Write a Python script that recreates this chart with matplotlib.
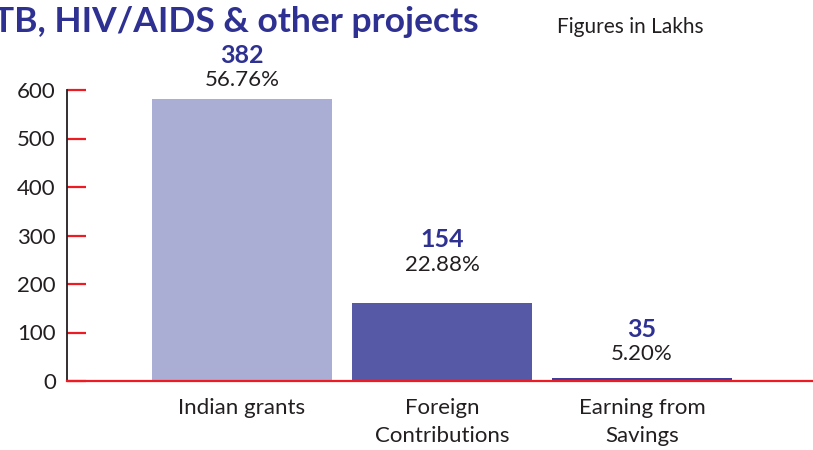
import matplotlib.pyplot as plt

# data
categories = ["Indian grants", "Foreign\nContributions", "Earning from\nSavings"]
bar_heights = [581, 161, 5.5]
amounts = ["382", "154", "35"]
shares = ["56.76%", "22.88%", "5.20%"]
yticks = [0, 100, 200, 300, 400, 500, 600]

# layout: gap (px) between bar top and the percent label centre
label_gap = [19, 38, 24]

bar_colors = ["#abaed4", "#5659a5", "#3c3f9c"]
navy = "#2e3192"
dark = "#231f20"
red = "#ed1c24"

plt.rcParams['font.family'] = ['Lato', 'DejaVu Sans']

fig = plt.figure(figsize=(8.13, 4.5), dpi=100)
ax = fig.add_axes([67 / 813, 69 / 450, 746 / 813, 291 / 450])

x = range(len(categories))
bars = ax.bar(x, bar_heights, width=0.9, color=bar_colors, zorder=2)

px = 72 / 100  # points per pixel
for b, amt, pct, gap in zip(bars, amounts, shares, label_gap):
    cx = b.get_x() + b.get_width() / 2
    top = b.get_height()
    ax.annotate(pct, (cx, top), xytext=(0, gap * px), textcoords='offset points',
                ha='center', va='center', fontsize=16, color=dark)
    ax.annotate(amt, (cx, top), xytext=(0, (gap + 25) * px), textcoords='offset points',
                ha='center', va='center', fontsize=18, fontweight='bold', color=navy)

ax.set_xlim(-0.875, 2.855)
ax.set_ylim(0, 600)
ax.set_yticks(yticks)
ax.set_xticks(list(x))
ax.set_xticklabels(categories, fontsize=16, color=dark, linespacing=1.55)

ax.spines['top'].set_visible(False)
ax.spines['right'].set_visible(False)
ax.spines['left'].set_color(dark)
ax.spines['left'].set_linewidth(1.3)
ax.spines['bottom'].set_color(red)
ax.spines['bottom'].set_linewidth(1.6)
ax.spines['bottom'].set_zorder(3)

ax.tick_params(axis='y', direction='in', length=14, width=1.6, color=red,
               labelsize=16, labelcolor=dark, pad=8)
ax.tick_params(axis='x', length=0, pad=12)

fig.text(-0.008, 0.952, "TB, HIV/AIDS & other projects", fontsize=25.5,
         fontweight='bold', color=navy, ha='left', va='center')
fig.text(0.685, 0.94, "Figures in Lakhs", fontsize=15, color=dark,
         ha='left', va='center')

fig.savefig("out.png", dpi=100)
